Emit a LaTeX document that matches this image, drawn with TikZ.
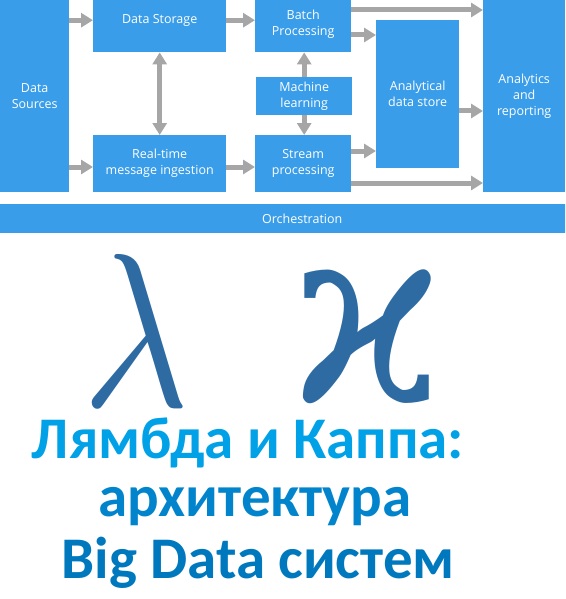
\documentclass[tikz,border=0pt]{standalone}
\usepackage{amsmath}
\usepackage{amssymb}
\usepackage{xcolor}
\usepackage{graphicx}
\usepackage{fontspec}
\setmainfont{Open Sans}
\newfontfamily\titlefont{Carlito}
\newfontfamily\greekfont{DejaVu Serif}
\usetikzlibrary{arrows.meta}
\definecolor{boxblue}{RGB}{58,157,233}
\definecolor{arrgray}{RGB}{166,166,166}
\definecolor{greekblue}{RGB}{46,107,163}
\definecolor{titleA}{RGB}{0,161,230}
\definecolor{titleB}{RGB}{2,132,204}
\definecolor{titleC}{RGB}{0,120,190}

\begin{document}
\begin{tikzpicture}[x=1pt, y=-1pt,
  blk/.style={fill=boxblue, text=white, inner sep=0pt, align=center, anchor=north west,
    font=\fontsize{12.5}{16}\selectfont},
  flow/.style={-{Triangle[width=14pt,length=12pt]}, line width=5pt, arrgray},
  twoway/.style={{Triangle[width=14pt,length=12pt]}-{Triangle[width=14pt,length=12pt]}, line width=5pt, arrgray},
  greek/.style={inner sep=0pt, anchor=north west, text=greekblue, font=\greekfont},
  heading/.style={inner sep=0pt, anchor=base, font=\titlefont\bfseries\fontsize{59}{60}\selectfont}]
%\draw[help lines] (0,0) grid[step=20] (565,599);
\useasboundingbox (0,0) rectangle (565,599);
\clip (0,0) rectangle (565,599);
%==================== Boxes ==================
\node[blk, minimum width=69pt,  minimum height=192pt] (src)      at (0,0)     {Data\\Sources};
\node[blk, minimum width=133pt, minimum height=64pt]  (store)    at (93,-12)  {Data Storage};
\node[blk, minimum width=133pt, minimum height=57pt]  (realtime) at (93,135)  {Real-time\\message ingestion};
\node[blk, minimum width=96pt,  minimum height=55pt]  (batch)    at (255,-3)  {Batch\\Processing};
\node[blk, minimum width=96pt,  minimum height=38pt]  (ml)       at (256,77)  {Machine\\learning};
\node[blk, minimum width=96pt,  minimum height=57pt]  (stream)   at (255,135) {Stream\\processing};
\node[blk, minimum width=83pt,  minimum height=148pt] (astore)   at (376,20)  {Analytical\\data store};
\node[blk, minimum width=82pt,  minimum height=192pt] (report)   at (483,0)   {Analytics\\and\\reporting};
\node[blk, minimum width=604pt, minimum height=29pt]  (orch)     at (0,204)   {Orchestration};
%==================== Arrows ==================
\draw[flow] (src.east |- store.west) -- (store.west);
\draw[flow] (src.east |- 0,167) -- (realtime.west |- 0,167);
\draw[flow] (store.east) -- (batch.west |- store.east);
\draw[flow] (realtime.east |- 0,167) -- (stream.west |- 0,167);
\draw[twoway] (store.south) -- (realtime.north);
\draw[flow] (ml.north) -- (batch.south -| ml.north);
\draw[flow] (ml.south) -- (stream.north -| ml.south);
\draw[flow] (batch.east |- 0,10) -- (report.west |- 0,10);
\draw[flow] (batch.east |- 0,35) -- (astore.west |- 0,35);
\draw[flow] (astore.east |- 0,111) -- (report.west |- 0,111);
\draw[flow] (stream.east |- 0,151) -- (astore.west |- 0,151);
\draw[flow] (stream.east |- 0,183) -- (report.west |- 0,183);
%==================== Greek letters ==================
\node[greek] (lambda) at (82,254)  {\resizebox{107pt}{152pt}{$\lambda$}};
\node[greek] (kappa)  at (292,258) {\resizebox{150pt}{144pt}{ϰ}};
%==================== Title ==================
\node[heading, text=titleA] (line1) at (248,458) {Лямбда и Каппа:};
\node[heading, text=titleB] (line2) at (255,516) {архитектура};
\node[heading, text=titleC] (line3) at (258,578) {Big Data систем};
\end{tikzpicture}
\end{document}
